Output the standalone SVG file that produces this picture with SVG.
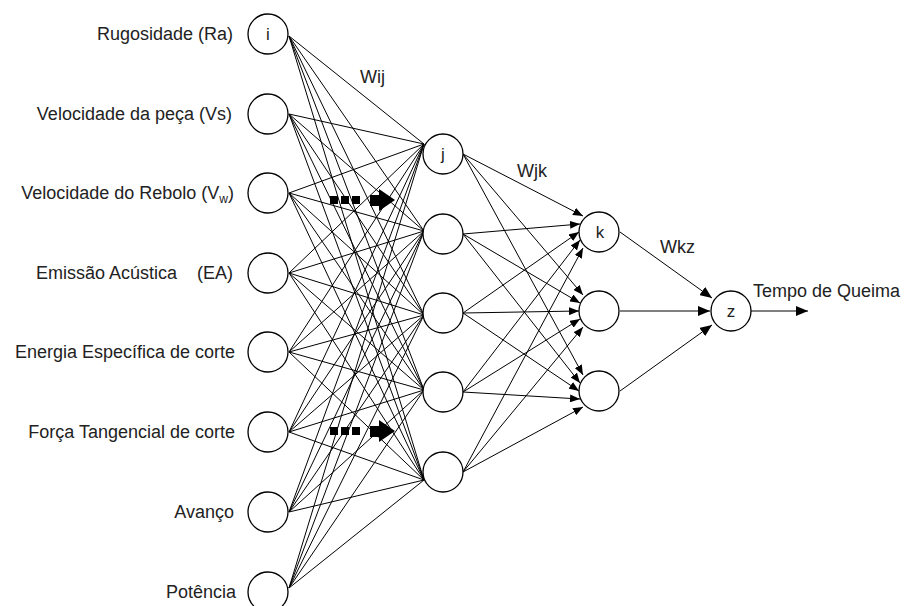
<svg xmlns="http://www.w3.org/2000/svg" width="904" height="606" viewBox="0 0 904 606">
<style>
.node{fill:#fff;stroke:#000;stroke-width:1.3}
.lbl{font-family:"Liberation Sans",Arial,sans-serif;font-size:18px;fill:#222}
.in{text-anchor:end}
.nl{text-anchor:middle;font-family:"Liberation Sans",Arial,sans-serif;font-size:17px;fill:#222}
.c line{stroke:#000;stroke-width:1}
.a{marker-end:url(#ah)}
.b{marker-end:url(#ahb)}
</style>
<defs>
<marker id="ah" viewBox="0 0 10 8" refX="10" refY="4" markerWidth="10" markerHeight="8" markerUnits="userSpaceOnUse" orient="auto"><path d="M0,0L10,4L0,8z" fill="#000"/></marker>
<marker id="ahb" viewBox="0 0 12 10" refX="12" refY="5" markerWidth="12" markerHeight="10" markerUnits="userSpaceOnUse" orient="auto"><path d="M0,0L12,5L0,10z" fill="#000"/></marker>
</defs>
<rect width="904" height="606" fill="#fff"/>
<g id="connectors" class="c">
<line x1="289" y1="36" x2="424" y2="144"/><line x1="289" y1="36" x2="424" y2="231"/><line x1="289" y1="36" x2="424" y2="315"/><line x1="289" y1="36" x2="424" y2="390"/><line x1="289" y1="36" x2="424" y2="480"/>
<line x1="289" y1="114" x2="424" y2="144"/><line x1="289" y1="114" x2="424" y2="231"/><line x1="289" y1="114" x2="424" y2="315"/><line x1="289" y1="114" x2="424" y2="390"/><line x1="289" y1="114" x2="424" y2="480"/>
<line x1="289" y1="193" x2="424" y2="144"/><line x1="289" y1="193" x2="424" y2="231"/><line x1="289" y1="193" x2="424" y2="315"/><line x1="289" y1="193" x2="424" y2="390"/><line x1="289" y1="193" x2="424" y2="480"/>
<line x1="289" y1="273" x2="424" y2="144"/><line x1="289" y1="273" x2="424" y2="231"/><line x1="289" y1="273" x2="424" y2="315"/><line x1="289" y1="273" x2="424" y2="390"/><line x1="289" y1="273" x2="424" y2="480"/>
<line x1="289" y1="352" x2="424" y2="144"/><line x1="289" y1="352" x2="424" y2="231"/><line x1="289" y1="352" x2="424" y2="315"/><line x1="289" y1="352" x2="424" y2="390"/><line x1="289" y1="352" x2="424" y2="480"/>
<line x1="289" y1="432" x2="424" y2="144"/><line x1="289" y1="432" x2="424" y2="231"/><line x1="289" y1="432" x2="424" y2="315"/><line x1="289" y1="432" x2="424" y2="390"/><line x1="289" y1="432" x2="424" y2="480"/>
<line x1="289" y1="512" x2="424" y2="144"/><line x1="289" y1="512" x2="424" y2="231"/><line x1="289" y1="512" x2="424" y2="315"/><line x1="289" y1="512" x2="424" y2="390"/><line x1="289" y1="512" x2="424" y2="480"/>
<line x1="289" y1="588" x2="424" y2="144"/><line x1="289" y1="588" x2="424" y2="231"/><line x1="289" y1="588" x2="424" y2="315"/><line x1="289" y1="588" x2="424" y2="390"/><line x1="289" y1="588" x2="424" y2="480"/>
<line class="a" x1="463" y1="154" x2="583" y2="216"/><line class="a" x1="463" y1="234" x2="580" y2="224"/><line class="a" x1="463" y1="313" x2="579" y2="232"/><line class="a" x1="463" y1="392" x2="580" y2="240"/><line class="a" x1="463" y1="472" x2="583" y2="248"/>
<line class="a" x1="463" y1="154" x2="583" y2="295"/><line class="a" x1="463" y1="234" x2="580" y2="303"/><line class="a" x1="463" y1="313" x2="579" y2="311"/><line class="a" x1="463" y1="392" x2="580" y2="319"/><line class="a" x1="463" y1="472" x2="583" y2="327"/>
<line class="a" x1="463" y1="154" x2="583" y2="375"/><line class="a" x1="463" y1="234" x2="580" y2="383"/><line class="a" x1="463" y1="313" x2="579" y2="391"/><line class="a" x1="463" y1="392" x2="580" y2="399"/><line class="a" x1="463" y1="472" x2="583" y2="407"/>
<line class="b" x1="620" y1="232" x2="712" y2="298"/><line class="b" x1="620" y1="311" x2="710" y2="311"/><line class="b" x1="620" y1="391" x2="712" y2="325"/>
<line class="b" x1="751" y1="311" x2="808" y2="311"/>
</g>
<g id="flow-arrows" fill="#000">
<rect x="330" y="196" width="8" height="8"/><rect x="341" y="196" width="8" height="8"/><rect x="352" y="196" width="8" height="8"/>
<path d="M370,195H379V189L395,200L379,211V206H370z"/>
<rect x="330" y="427" width="8" height="8"/><rect x="341" y="427" width="8" height="8"/><rect x="352" y="427" width="8" height="8"/>
<path d="M370,426H379V420L395,431L379,442V437H370z"/>
</g>
<g id="in1"><circle class="node" cx="268" cy="34" r="20"/><text class="nl" x="268" y="40">i</text><text class="lbl in" x="233" y="40">Rugosidade (Ra)</text></g>
<g id="in2"><circle class="node" cx="268" cy="114" r="20"/><text class="lbl in" x="232" y="120">Velocidade da peça (Vs)</text></g>
<g id="in3"><circle class="node" cx="268" cy="193" r="20"/><text class="lbl in" x="234" y="199">Velocidade do Rebolo (V<tspan font-size="12" dy="4">w</tspan><tspan dy="-4">)</tspan></text></g>
<g id="in4"><circle class="node" cx="268" cy="273" r="20"/><text class="lbl in" x="233" y="279" xml:space="preserve">Emissão Acústica    (EA)</text></g>
<g id="in5"><circle class="node" cx="268" cy="352" r="20"/><text class="lbl in" x="235" y="358">Energia Específica de corte</text></g>
<g id="in6"><circle class="node" cx="268" cy="432" r="20"/><text class="lbl in" x="235" y="438">Força Tangencial de corte</text></g>
<g id="in7"><circle class="node" cx="268" cy="512" r="20"/><text class="lbl in" x="234" y="518">Avanço</text></g>
<g id="in8"><circle class="node" cx="268" cy="592" r="20"/><text class="lbl in" x="236" y="598">Potência</text></g>
<g id="h1"><circle class="node" cx="443" cy="154" r="20"/><text class="nl" x="443" y="160">j</text></g>
<g id="h2"><circle class="node" cx="443" cy="234" r="20"/></g>
<g id="h3"><circle class="node" cx="443" cy="313" r="20"/></g>
<g id="h4"><circle class="node" cx="443" cy="392" r="20"/></g>
<g id="h5"><circle class="node" cx="443" cy="472" r="20"/></g>
<g id="o1"><circle class="node" cx="599" cy="232" r="20"/><text class="nl" x="600" y="238">k</text></g>
<g id="o2"><circle class="node" cx="599" cy="311" r="20"/></g>
<g id="o3"><circle class="node" cx="599" cy="391" r="20"/></g>
<g id="z"><circle class="node" cx="731" cy="311" r="20"/><text class="nl" x="731" y="317">z</text></g>
<g id="labels">
<text class="lbl" x="360" y="83">Wij</text>
<text class="lbl" x="517" y="177">Wjk</text>
<text class="lbl" x="660" y="253">Wkz</text>
<text class="lbl" x="753" y="297">Tempo de Queima</text>
</g>
</svg>
